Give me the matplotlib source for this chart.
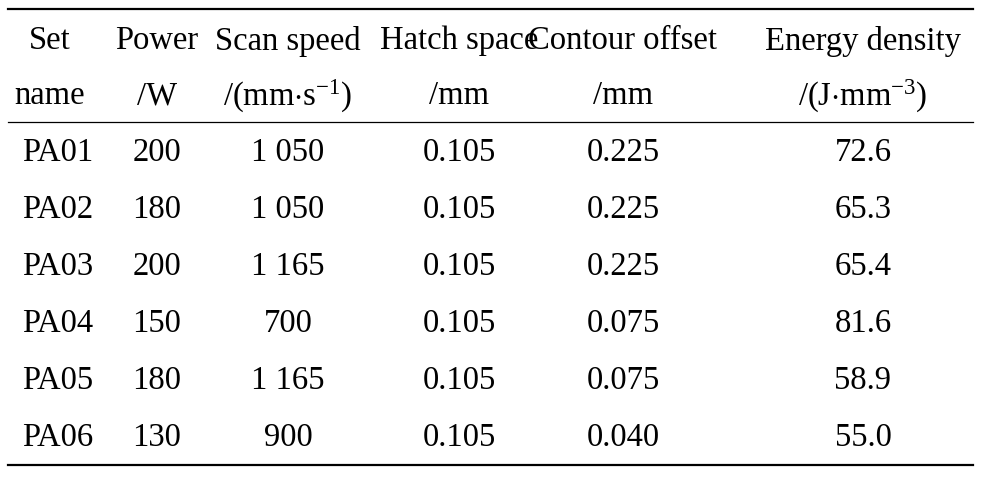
import matplotlib
matplotlib.use("Agg")
import matplotlib.pyplot as plt

plt.rcParams['font.family'] = ['Liberation Serif', 'DejaVu Serif']
plt.rcParams['mathtext.fontset'] = 'custom'
plt.rcParams['mathtext.rm'] = 'Liberation Serif'
plt.rcParams['mathtext.it'] = 'Liberation Serif'

header1 = ["Set", "Power", "Scan speed", "Hatch space", "Contour offset", "Energy density"]
header2 = ["name", "/W", r"/(mm$\cdot$s$^{\mathrm{-1}}$)", "/mm", "/mm", r"/(J$\cdot$mm$^{\mathrm{-3}}$)"]
set_names = ["PA01", "PA02", "PA03", "PA04", "PA05", "PA06"]
power = ["200", "180", "200", "150", "180", "130"]
scan_speed = ["1 050", "1 050", "1 165", "700", "1 165", "900"]
hatch = ["0.105"] * 6
contour = ["0.225", "0.225", "0.225", "0.075", "0.075", "0.040"]
energy = ["72.6", "65.3", "65.4", "81.6", "58.9", "55.0"]

W, H = 987, 478
fig = plt.figure(figsize=(W/100, H/100), dpi=100)
ax = fig.add_axes([0, 0, 1, 1])
ax.set_xlim(0, W); ax.set_ylim(H, 0); ax.axis('off')

xs = [58, 157, 288, 459, 623, 863]
hx = [50, 157, 288, 459, 623, 863]
fs = 23.5
for x, t in zip(hx, header1):
    ax.text(x, 41, t, ha='center', va='center', fontsize=fs)
for x, t in zip(hx, header2):
    ax.text(x, 96, t, ha='center', va='center', fontsize=fs)
cols = [set_names, power, scan_speed, hatch, contour, energy]
for i in range(6):
    y = 153 + i * 57
    for x, c in zip(xs, cols):
        ax.text(x, y, c[i], ha='center', va='center', fontsize=fs)

ax.plot([8, 973], [9, 9], color='black', lw=1.6)
ax.plot([8, 973], [122, 122], color='black', lw=0.9)
ax.plot([8, 973], [465, 465], color='black', lw=1.6)
fig.savefig("out.png", dpi=100)
